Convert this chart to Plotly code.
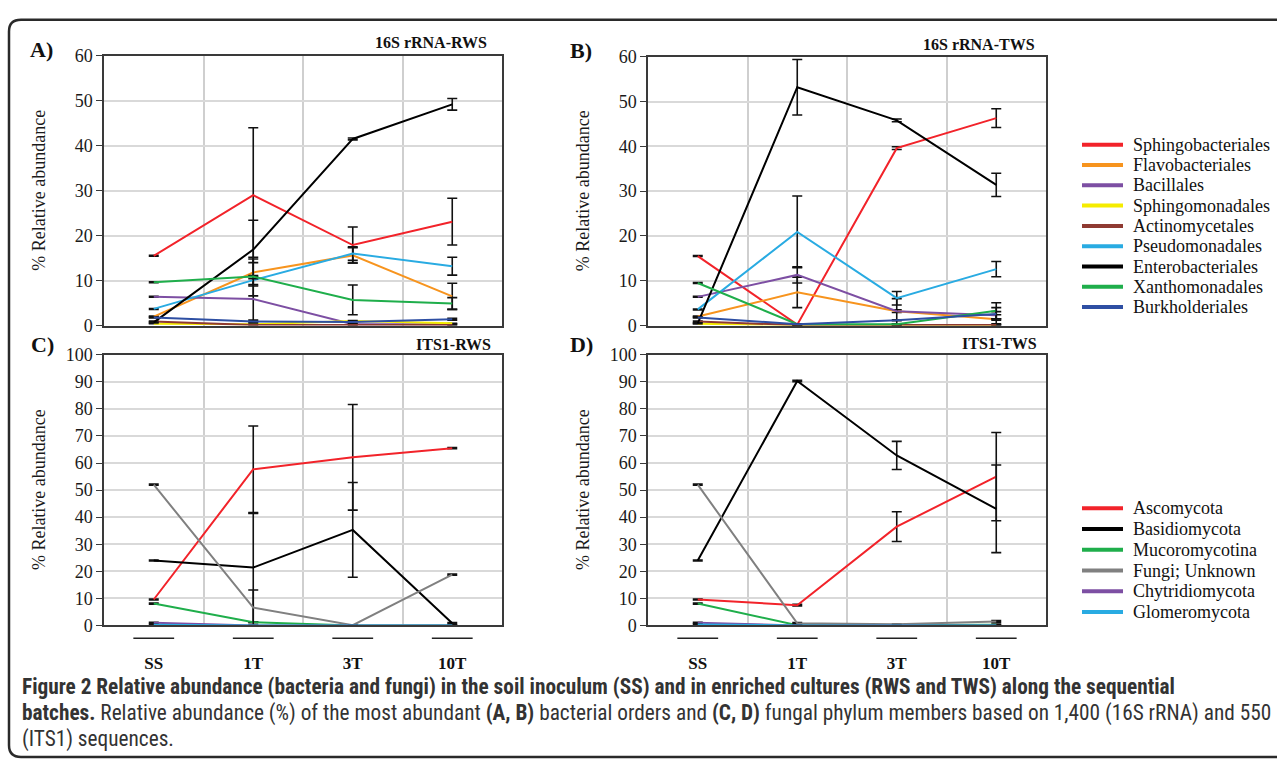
import plotly.graph_objects as go

W, H = 1277, 765

categories = ["SS", "1T", "3T", "10T"]

bact_names = ["Sphingobacteriales", "Flavobacteriales", "Bacillales", "Sphingomonadales",
              "Actinomycetales", "Pseudomonadales", "Enterobacteriales", "Xanthomonadales",
              "Burkholderiales"]
bact_colors = ["#f2232a", "#f7941e", "#7d4fa3", "#f5ec00", "#8f3a32", "#29abe2",
               "#000000", "#1fae4b", "#2e4fa3"]

fungi_names = ["Ascomycota", "Basidiomycota", "Mucoromycotina", "Fungi; Unknown",
               "Chytridiomycota", "Glomeromycota"]
fungi_colors = ["#f2232a", "#000000", "#1fae4b", "#808080", "#7d4fa3", "#29abe2"]

# Panel A: 16S rRNA-RWS (values, errors) in order of bact_names
rws16_values = [
    [15.5, 29.0, 17.9, 23.1],
    [2.0, 11.8, 15.6, 6.5],
    [6.4, 5.9, 0.3, 0.3],
    [0.4, 0.3, 1.0, 0.5],
    [0.9, 0.1, 0.1, 0.1],
    [3.7, 10.1, 16.0, 13.2],
    [0.7, 16.9, 41.5, 49.2],
    [9.6, 10.9, 5.7, 4.9],
    [1.8, 0.9, 0.8, 1.4],
]
rws16_errors = [
    [0.1, 15.0, 4.0, 5.2],
    [0.1, 3.0, 1.7, 2.9],
    [0.1, 5.0, 0.1, 0.1],
    [0.0, 0.0, 0.0, 0.0],
    [0.1, 0.0, 0.0, 0.0],
    [0.1, 1.0, 1.5, 2.0],
    [0.1, 6.5, 0.2, 1.3],
    [0.1, 4.3, 3.3, 1.3],
    [0.1, 0.3, 0.3, 0.2],
]

# Panel B: 16S rRNA-TWS
tws16_values = [
    [15.5, 0.2, 39.6, 46.3],
    [2.0, 7.4, 3.2, 1.4],
    [6.4, 11.3, 3.2, 2.3],
    [0.4, 0.1, 0.1, 0.1],
    [0.9, 0.1, 0.1, 0.1],
    [3.6, 20.9, 6.1, 12.6],
    [0.5, 53.2, 45.8, 31.4],
    [9.5, 0.3, 0.3, 3.3],
    [1.8, 0.3, 1.2, 2.6],
]
tws16_errors = [
    [0.1, 0.1, 0.3, 2.1],
    [0.1, 3.4, 0.3, 1.0],
    [0.1, 1.8, 2.8, 0.8],
    [0.0, 0.0, 0.0, 0.0],
    [0.1, 0.0, 0.0, 0.0],
    [0.1, 8.0, 1.5, 1.7],
    [0.1, 6.2, 0.3, 2.6],
    [0.1, 0.1, 0.1, 1.8],
    [0.1, 0.1, 0.1, 1.4],
]

# Panel C: ITS1-RWS (order of fungi_names)
rws_its_values = [
    [9.6, 57.7, 62.1, 65.5],
    [24.0, 21.4, 35.3, 0.8],
    [8.1, 1.2, 0.0, 0.0],
    [52.0, 6.6, 0.1, 18.8],
    [1.0, 0.0, 0.0, 0.0],
    [0.3, 0.0, 0.0, 0.0],
]
rws_its_errors = [
    [0.2, 16.0, 19.5, 0.2],
    [0.2, 20.0, 17.5, 0.3],
    [0.2, 0.2, 0.0, 0.0],
    [0.2, 6.5, 0.1, 0.2],
    [0.2, 0.0, 0.0, 0.0],
    [0.0, 0.0, 0.0, 0.0],
]

# Panel D: ITS1-TWS
tws_its_values = [
    [9.6, 7.5, 36.5, 55.0],
    [24.0, 90.3, 62.8, 43.1],
    [8.1, 0.1, 0.2, 0.3],
    [52.0, 0.8, 0.5, 1.5],
    [1.0, 0.0, 0.0, 0.0],
    [0.4, 0.0, 0.0, 0.0],
]
tws_its_errors = [
    [0.2, 0.3, 5.5, 16.3],
    [0.2, 0.3, 5.2, 16.2],
    [0.2, 0.2, 0.0, 0.2],
    [0.2, 0.3, 0.0, 0.3],
    [0.2, 0.0, 0.0, 0.0],
    [0.0, 0.0, 0.0, 0.0],
]

panel_titles = ["16S rRNA-RWS", "16S rRNA-TWS", "ITS1-RWS", "ITS1-TWS"]
panel_letters = ["A)", "B)", "C)", "D)"]
y_title = "% Relative abundance"


def X(px):
    return px / W


def Y(py):
    return 1 - py / H


SERIF = "Times New Roman, Liberation Serif, serif"
CAPFONT = "Roboto Condensed, Liberation Sans Narrow, Arial Narrow, sans-serif"

fig = go.Figure()
xidx = list(range(len(categories)))

panels = [
    ("x", "y", rws16_values, rws16_errors, bact_colors),
    ("x2", "y2", tws16_values, tws16_errors, bact_colors),
    ("x3", "y3", rws_its_values, rws_its_errors, fungi_colors),
    ("x4", "y4", tws_its_values, tws_its_errors, fungi_colors),
]
panel_names = [bact_names, bact_names, fungi_names, fungi_names]

for (xa, ya, vals, errs, colors), names in zip(panels, panel_names):
    for name, col, v, e in zip(names, colors, vals, errs):
        fig.add_trace(go.Scatter(
            x=xidx, y=v, mode="lines", name=name, xaxis=xa, yaxis=ya,
            line=dict(color=col, width=2),
            error_y=dict(type="data", array=e, visible=True, color="#111111",
                         thickness=1.6, width=5),
            showlegend=False, hoverinfo="skip",
        ))

# panel geometry in window pixels: (left, right, top, bottom)
geom = [
    (104, 502, 47, 324),
    (648, 1046, 48, 324),
    (104, 502, 354, 632),
    (648, 1046, 354, 632),
]
yranges = [60, 60, 100, 100]

layout = dict(
    width=W, height=H, margin=dict(l=0, r=0, t=0, b=0),
    paper_bgcolor="white", plot_bgcolor="white", showlegend=False,
    font=dict(family=SERIF, color="#1a1a1a"),
)
for i, (l, r, t, b) in enumerate(geom):
    suf = "" if i == 0 else str(i + 1)
    bottom_row = i >= 2
    layout["xaxis" + suf] = dict(
        domain=[X(l), X(r)], anchor="y" + suf, range=[-0.5, len(categories) - 0.5],
        tickmode="array", tickvals=xidx,
        ticktext=["<b>%s</b>" % c for c in categories],
        showticklabels=bottom_row, ticks="", showgrid=False, zeroline=False,
        showline=True, mirror=True, linecolor="#3a3a3a", linewidth=1.5,
        tickfont=dict(family=SERIF, size=17, color="#111"),
        ticklabelstandoff=21,
        minor=dict(tickmode="array", tickvals=[k + 0.5 for k in xidx[:-1]],
                   showgrid=True, gridcolor="#cfcfcf", gridwidth=1.5, ticks=""),
    )
    layout["yaxis" + suf] = dict(
        domain=[Y(b), Y(t)], anchor="x" + suf, range=[0, yranges[i]], dtick=10,
        showgrid=True, gridcolor="#d9d9d9", gridwidth=1.5, zeroline=False,
        showline=True, mirror=True, linecolor="#3a3a3a", linewidth=1.5,
        ticks="outside", ticklen=6, tickcolor="#3a3a3a", tickwidth=1,
        tickfont=dict(family=SERIF, size=18, color="#1a1a1a"),
    )

fig.update_layout(**layout)

ann = []
shapes = []
title_pos = [(489, 33), (1037, 35), (493, 343), (1039, 342)]
letter_pos = [(28, 41), (568, 42), (29, 343), (568, 343)]
ytitle_x = [39, 583, 39, 583]
for i, (l, r, t, b) in enumerate(geom):
    tx, ty = title_pos[i]
    ann.append(dict(text="<b>%s</b>" % panel_titles[i], x=X(tx), y=Y(ty), xref="paper",
                    yref="paper", xanchor="right", yanchor="middle", showarrow=False,
                    font=dict(family=SERIF, size=16, color="#111")))
    lx, ly = letter_pos[i]
    ann.append(dict(text="<b>%s</b>" % panel_letters[i], x=X(lx), y=Y(ly), xref="paper",
                    yref="paper", xanchor="left", yanchor="middle", showarrow=False,
                    font=dict(family=SERIF, size=22, color="#111")))
    ann.append(dict(text=y_title, x=X(ytitle_x[i]), y=Y((t + b) / 2), xref="paper",
                    yref="paper", xanchor="center", yanchor="middle", showarrow=False,
                    textangle=-90, font=dict(family=SERIF, size=18, color="#1a1a1a")))

# legends (key boxes) for the two panel rows
legend_specs = [
    (bact_names, bact_colors, 138.3, 20.85),
    (fungi_names, fungi_colors, 511.7, 21.3),
]
for names, colors, y_first, step in legend_specs:
    for k, (name, col) in enumerate(zip(names, colors)):
        yy = Y(y_first + k * step)
        shapes.append(dict(type="line", xref="paper", yref="paper", x0=X(1082), x1=X(1123),
                           y0=yy, y1=yy, line=dict(color=col, width=4)))
        ann.append(dict(text=name, x=X(1131), y=yy, xref="paper", yref="paper",
                        xanchor="left", yanchor="middle", showarrow=False,
                        font=dict(family=SERIF, size=18, color="#111")))

caption_lines = [
    "<b>Figure 2 Relative abundance (bacteria and fungi) in the soil inoculum (SS) and in enriched cultures (RWS and TWS) along the sequential</b>",
    "<b>batches.</b> Relative abundance (%) of the most abundant <b>(A, B)</b> bacterial orders and <b>(C, D)</b> fungal phylum members based on 1,400 (16S rRNA) and 550",
    "(ITS1) sequences.",
]
caption_y = [695, 722, 749]
for line, cy in zip(caption_lines, caption_y):
    ann.append(dict(text=line, x=X(20), y=Y(cy), xref="paper", yref="paper",
                    xanchor="left", yanchor="middle", showarrow=False,
                    font=dict(family=CAPFONT, size=21.3, color="#333")))

# category underline bars in bottom panels
for xa in ["x3", "x4"]:
    for k in xidx:
        shapes.append(dict(type="line", xref=xa, yref="paper", x0=k - 0.205, x1=k + 0.205,
                           y0=Y(645), y1=Y(645), line=dict(color="#222", width=1.5)))
# outer rounded frame
x0, x1, y0, y1, rr = X(9), X(1300), Y(10), Y(767), 12
rx, ry = rr / W, rr / H
path = (f"M {x1},{y0} L {x0 + rx},{y0} Q {x0},{y0} {x0},{y0 - ry} "
        f"L {x0},{y1 + ry} Q {x0},{y1} {x0 + rx},{y1} L {x1},{y1}")
shapes.append(dict(type="path", xref="paper", yref="paper", path=path,
                   line=dict(color="#2a2a2a", width=2.5)))

fig.update_layout(annotations=ann, shapes=shapes)
fig.write_html("out.html")
